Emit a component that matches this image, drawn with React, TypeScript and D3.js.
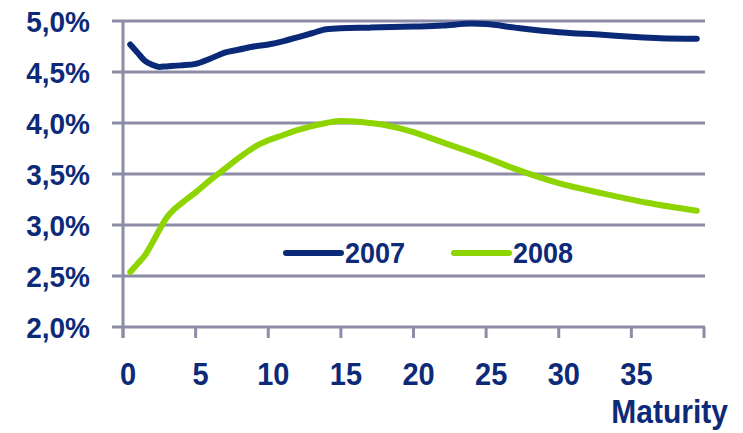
import React from "react";
import * as d3 from "d3";

// Yield curves by maturity (years) for two years
const maturities2007 = [0.5, 1, 1.5, 2, 2.5, 3, 4, 5, 6, 7, 8, 9, 10, 11, 12, 13, 14, 15, 17, 20, 22, 24, 25, 27, 30, 33, 35, 37, 39.5];
const yields2007 = [4.77, 4.69, 4.61, 4.57, 4.55, 4.555, 4.565, 4.58, 4.63, 4.69, 4.72, 4.75, 4.77, 4.8, 4.84, 4.88, 4.92, 4.93, 4.935, 4.945, 4.955, 4.975, 4.97, 4.935, 4.89, 4.865, 4.845, 4.83, 4.825];

const maturities2008 = [0.5, 1, 1.5, 2, 2.5, 3, 3.5, 4, 5, 6, 7, 8, 9, 10, 11, 12, 13, 14, 15, 16, 17, 18, 19, 20, 22, 25, 27, 30, 33, 36, 39.5];
const yields2008 = [2.54, 2.62, 2.7, 2.82, 2.95, 3.07, 3.15, 3.21, 3.32, 3.44, 3.55, 3.66, 3.76, 3.83, 3.88, 3.93, 3.97, 4.0, 4.02, 4.015, 4.0, 3.98, 3.95, 3.91, 3.81, 3.66, 3.55, 3.41, 3.31, 3.22, 3.14];

const seriesNames = ["2007", "2008"];
const seriesColors = ["#0a2a78", "#8ed400"];

const yTicks = [2.0, 2.5, 3.0, 3.5, 4.0, 4.5, 5.0];
const xTicks = [0, 5, 10, 15, 20, 25, 30, 35, 40];
const xTickLabels = ["0", "5", "10", "15", "20", "25", "30", "35", ""];
const xAxisTitle = "Maturity";

const W = 743;
const H = 433;
const textColor = "#0d2a78";
const gridColor = "#8c8ca6";
const font = "'Liberation Sans', Arial, sans-serif";

// Bold text drawn slightly taller than wide
function TallText(props: {
  x: number;
  y: number;
  size: number;
  anchor?: "start" | "middle" | "end";
  sy?: number;
  children: React.ReactNode;
}) {
  const sy = props.sy ?? 1.1;
  return (
    <text
      transform={`translate(${props.x},${props.y}) scale(1,${sy})`}
      textAnchor={props.anchor ?? "start"}
      fontSize={props.size}
      fontWeight="bold"
      fill={textColor}
    >
      {props.children}
    </text>
  );
}

export default function App() {
  const x = d3.scaleLinear().domain([0, 40]).range([123, 704]);
  const y = d3.scaleLinear().domain([2.0, 5.0]).range([327, 21]);

  const line = d3
    .line<[number, number]>()
    .x((d) => x(d[0]))
    .y((d) => y(d[1]))
    .curve(d3.curveMonotoneX);

  const s2007 = maturities2007.map((m, i) => [m, yields2007[i]] as [number, number]);
  const s2008 = maturities2008.map((m, i) => [m, yields2008[i]] as [number, number]);

  const fmt = (v: number) => v.toFixed(1).replace(".", ",") + "%";

  return (
    <svg
      width={W}
      height={H}
      style={{ position: "absolute", left: 0, top: 0, background: "#fff" }}
      fontFamily={font}
    >
      {/* horizontal gridlines */}
      {yTicks.map((t) => (
        <line key={"g" + t} x1={112} x2={705} y1={y(t)} y2={y(t)} stroke={gridColor} strokeWidth={3} />
      ))}
      {/* vertical axis */}
      <line x1={x(0)} x2={x(0)} y1={y(5.0) - 1} y2={338} stroke={gridColor} strokeWidth={3} />
      {/* x ticks */}
      {xTicks.map((t) => (
        <line key={"t" + t} x1={x(t)} x2={x(t)} y1={y(2.0)} y2={338} stroke={gridColor} strokeWidth={3} />
      ))}
      {/* y labels */}
      {yTicks.map((t) => (
        <TallText key={"yl" + t} x={90} y={y(t) + 11} size={28} anchor="end" sy={1.03}>
          {fmt(t)}
        </TallText>
      ))}
      {/* x labels */}
      {xTicks.map((t, i) => (
        <TallText key={"xl" + t} x={x(t) + 5} y={385} size={29} anchor="middle" sy={1.1}>
          {xTickLabels[i]}
        </TallText>
      ))}
      <TallText x={728} y={423} size={30} anchor="end" sy={1.12}>
        {xAxisTitle}
      </TallText>

      {/* curves */}
      <path d={line(s2008) || ""} fill="none" stroke={seriesColors[1]} strokeWidth={6} strokeLinecap="round" />
      <path d={line(s2007) || ""} fill="none" stroke={seriesColors[0]} strokeWidth={6} strokeLinecap="round" />

      {/* legend */}
      {seriesNames.map((n, i) => {
        const lx = 286 + i * 168;
        return (
          <g key={n}>
            <line x1={lx} x2={lx + 55} y1={253} y2={253} stroke={seriesColors[i]} strokeWidth={6} strokeLinecap="round" />
            <TallText x={lx + 59} y={263} size={27} sy={1.08}>
              {n}
            </TallText>
          </g>
        );
      })}
    </svg>
  );
}
